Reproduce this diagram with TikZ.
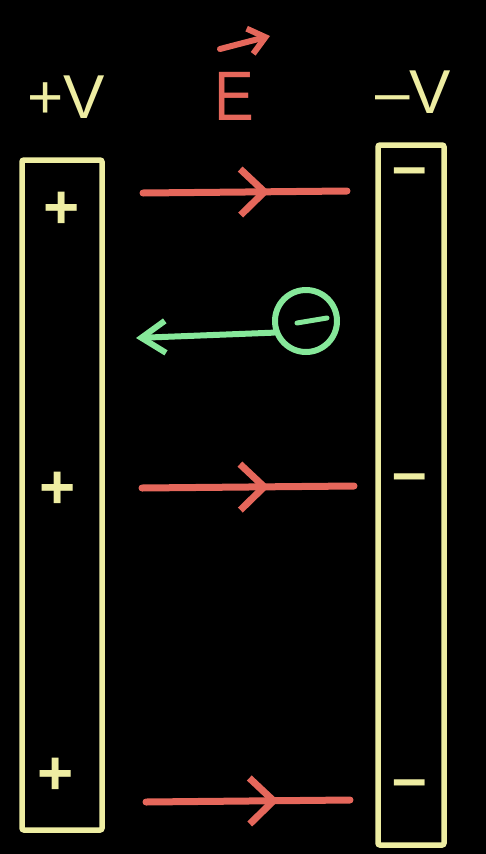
\documentclass[tikz,border=0pt]{standalone}
\usepackage{fontspec}
\setmainfont{Liberation Sans}
\usetikzlibrary{arrows.meta,decorations.markings}
\definecolor{plateY}{HTML}{EEEDA2}
\definecolor{fieldR}{HTML}{E5675B}
\definecolor{elecG}{HTML}{86E89A}
\tikzset{
  plate/.style={draw=plateY, line width=5.5pt, rounded corners=2pt, inner sep=0pt},
  lbl/.style={text=plateY, font=\fontsize{62}{62}\selectfont, inner sep=0pt},
  charge/.style={text=plateY, font=\fontsize{62}{62}\selectfont\bfseries, inner sep=0pt},
  fieldline/.style={draw=fieldR, line width=7pt, line cap=round,
    postaction={decorate}, decoration={markings,
      mark=at position #1 with {\arrow[fieldR, line width=7pt, line cap=round]{Straight Barb[length=24pt,width=46pt]}}}},
  electron/.style={draw=elecG, line width=6pt, line cap=round, inner sep=0pt, circle, minimum size=62pt},
}
\begin{document}
\begin{tikzpicture}[x=1pt,y=-1pt]
\fill[black] (0,0) rectangle (486,854);
\useasboundingbox (0,0) rectangle (486,854);
% plates
\node[plate, minimum width=80pt, minimum height=670pt] (lp) at (62,495) {};
\node[plate, minimum width=66pt, minimum height=700pt] (rp) at (411,495) {};
% labels
\node[lbl] (pv) at (66,97) {+V};
\node[lbl] (mv) at (413,92) {\textendash V};
\node[text=fieldR, font=\fontsize{70}{70}\selectfont, inner sep=0pt, xscale=0.85] (E) at (234,96) {E};
\coordinate (ea1) at (220,49);
\coordinate (ea2) at (270,36);
\draw[fieldR, line width=6pt, line cap=round, -{Straight Barb[length=16pt,width=26pt]}] (ea1) -- (ea2);
% charges
\node[charge] (p1) at (62,210) {+};
\node[charge] (p2) at (58,490) {+};
\node[charge] (p3) at (56,776) {+};
\node[charge] (m1) at (410,178) {\textendash};
\node[charge] (m2) at (410,484) {\textendash};
\node[charge] (m3) at (410,790) {\textendash};
% field lines
\coordinate (f1a) at (143,193); \coordinate (f1b) at (347,191);
\coordinate (f2a) at (142,488); \coordinate (f2b) at (354,486);
\coordinate (f3a) at (146,802); \coordinate (f3b) at (350,800);
\draw[fieldline=0.62] (f1a) -- (f1b);
\draw[fieldline=0.6] (f2a) -- (f2b);
\draw[fieldline=0.65] (f3a) -- (f3b);
% electron
\node[electron] (el) at (306,321) {};
\draw[elecG, line width=5pt, line cap=round] (297,323) -- (327,318);
\coordinate (gt) at (136,338);
\draw[elecG, line width=6pt, line cap=round, -{Straight Barb[length=24pt,width=32pt]}] (el.200) -- (gt);
\end{tikzpicture}
\end{document}
